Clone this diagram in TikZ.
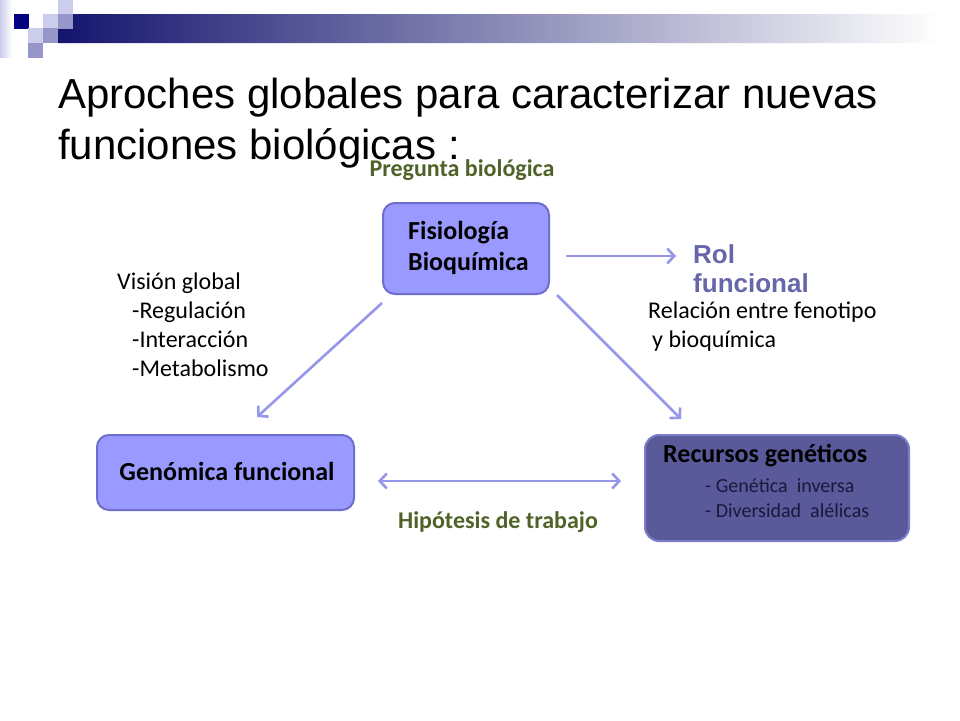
\documentclass[tikz,border=0pt]{standalone}
\usepackage{fontspec}
\setmainfont{Carlito}
\newfontfamily\arialf{Liberation Sans}
\usetikzlibrary{arrows.meta,calc}
\definecolor{navyA}{RGB}{20,20,110}
\definecolor{sqdark}{RGB}{0,0,128}
\definecolor{sqlight}{RGB}{204,204,236}
\definecolor{sqmed}{RGB}{150,150,200}
\definecolor{boxfill}{RGB}{153,153,255}
\definecolor{boxedge}{RGB}{110,110,205}
\definecolor{recfill}{RGB}{90,90,155}
\definecolor{recedge}{RGB}{125,125,205}
\definecolor{arrowc}{RGB}{150,150,235}
\definecolor{greenlab}{RGB}{79,98,40}
\definecolor{rolc}{RGB}{102,102,170}
\definecolor{subtxt}{RGB}{25,25,60}
\tikzset{
  box/.style={draw=boxedge, line width=2pt, fill=boxfill, rounded corners=12pt, inner sep=0pt},
  recbox/.style={draw=recedge, line width=2pt, fill=recfill, rounded corners=14pt, inner sep=0pt},
  arr/.style={draw=arrowc, line width=2.6pt, -{Straight Barb[length=7pt,width=15pt]}},
  arrboth/.style={draw=arrowc, line width=2.6pt, {Straight Barb[length=7pt,width=15pt]}-{Straight Barb[length=7pt,width=15pt]}},
  boxtxt/.style={font=\fontsize{26}{31}\selectfont\bfseries, inner sep=0pt, align=left},
  lab/.style={font=\fontsize{24}{29}\selectfont, inner sep=0pt, align=left},
  greenl/.style={font=\fontsize{24}{28}\selectfont\bfseries, text=greenlab, inner sep=0pt},
  sq/.style={inner sep=0pt, minimum size=14.5pt, anchor=north west}
}
\begin{document}
\begin{tikzpicture}[x=1pt,y=-1pt]
\useasboundingbox (0,0) rectangle (960,720);
\fill[white] (0,0) rectangle (960,720);
% header decoration
\shade[left color=sqlight, right color=white] (0,0) rectangle (12,57);
\shade[left color=navyA, right color=white]
  (72,14) -- (940,14) -- (940,43) -- (58,43) -- (58,28) -- (72,28) -- cycle;
\node[sq, fill=sqdark] (s1) at (14,14) {};
\node[sq, fill=sqlight] (s2) at (58,0) {};
\node[sq, fill=sqlight] (s3) at (43,14) {};
\node[sq, fill=sqlight] (s4) at (28,28) {};
\node[sq, fill=sqmed] (s5) at (58,14) {};
\node[sq, fill=sqmed] (s6) at (43,28) {};
\node[sq, fill=sqmed] (s7) at (28,43) {};
% title
\node[anchor=base west, inner sep=0pt, font=\arialf\fontsize{42}{50}\selectfont] (t1) at (58,108) {Aproches globales para caracterizar nuevas};
\node[anchor=base west, inner sep=0pt, font=\arialf\fontsize{42}{50}\selectfont] (t2) at (58,159) {funciones biológicas :};
% boxes
\node[box, minimum width=166pt, minimum height=91pt] (fis) at (466,248.5) {};
\node[boxtxt, anchor=west] (fist) at (408,248) {Fisiología\\Bioquímica};
\node[box, minimum width=257pt, minimum height=75pt] (gen) at (225.5,472.5) {};
\node[boxtxt, anchor=center] (gent) at (227,471) {Genómica funcional};
\node[recbox, minimum width=264pt, minimum height=106pt] (rec) at (777,488) {};
\node[boxtxt, anchor=west] (rect) at (663,456) {Recursos genéticos};
\node[anchor=west, inner sep=0pt, text=subtxt, font=\fontsize{20}{25}\selectfont, align=left] (recs) at (705,498.5) {- Genética\ \ inversa\\- Diversidad\ \ alélicas};
% labels
\node[greenl] (preg) at (462,170) {Pregunta biológica};
\node[greenl] (hip) at (498,522) {Hipótesis de trabajo};
\node[anchor=west, inner sep=0pt, align=left, text=rolc, font=\arialf\bfseries\fontsize{26}{29}\selectfont] (rol) at (693,269) {Rol\\funcional};
\node[lab, anchor=west] (vis) at (117,324.5) {Visión global\\\hspace*{15pt}-Regulación\\\hspace*{15pt}-Interacción\\\hspace*{15pt}-Metabolismo};
\node[lab, anchor=west] (rel) at (648,326.5) {Relación entre fenotipo\\\hspace*{4pt}y bioquímica};
% connectors
\draw[arr] ($(fis.east)+(16,7.5)$) -- ($(rol.west)+(-17,-13)$);
\draw[arr] ($(fis.south west)+(0,8)$) -- ($(gen.north west)+(161,-17)$);
\draw[arr] ($(fis.south east)+(7,0)$) -- ($(rec.north west)+(37,-15)$);
\draw[arrboth] ($(gen.east)+(23,8.5)$) -- ($(rec.west)+(-23,-7)$);
\end{tikzpicture}
\end{document}
